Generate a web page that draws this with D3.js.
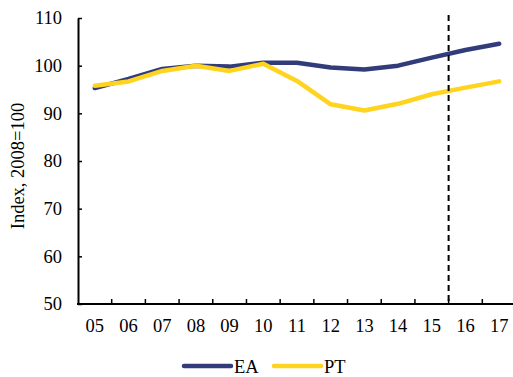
<!DOCTYPE html>
<html><head><meta charset="utf-8">
<script src="https://cdn.jsdelivr.net/npm/d3@7"></script>
<style>
body{margin:0;background:#fff;}
svg{display:block;font-family:"Liberation Serif","Times New Roman",serif;}
</style></head>
<body><svg id="c" width="513" height="377"></svg>
<script>
const categories = ["05","06","07","08","09","10","11","12","13","14","15","16","17"];
const seriesEA = [95.3, 97.2, 99.3, 100.0, 99.8, 100.6, 100.6, 99.6, 99.2, 100.0, 101.7, 103.3, 104.6];
const seriesPT = [95.8, 96.7, 98.9, 100.0, 98.9, 100.4, 96.8, 91.9, 90.6, 92.0, 94.0, 95.4, 96.7];
const seriesNames = ["EA", "PT"];
const yTicks = [50, 60, 70, 80, 90, 100, 110];
const forecastAfter = "15";
const yLabel = "Index, 2008=100";

const colors = {EA: "#323C7A", PT: "#FFD41F"};
const FS = 18.5;
const svg = d3.select("#c");
const x = d3.scaleBand().domain(categories).range([78, 516]).padding(0);
const y = d3.scaleLinear().domain([50, 110]).range([304, 18]);

// lines
const line = d3.line().x((d,i)=>x(categories[i]) + x.bandwidth()/2).y(d=>y(d));
[["EA", seriesEA], ["PT", seriesPT]].forEach(([n, s])=>{
  svg.append("path").datum(s).attr("d", line)
    .attr("fill","none").attr("stroke", colors[n]).attr("stroke-width", 4.5)
    .attr("stroke-linecap","round").attr("stroke-linejoin","round");
});

// dashed forecast line
const fx = x(forecastAfter) + x.bandwidth();
svg.append("line").attr("x1", fx).attr("x2", fx).attr("y1", y(110)-3).attr("y2", y(50))
  .attr("stroke","#000").attr("stroke-width",2).attr("stroke-dasharray","6,4");

// y axis
const yAxis = svg.append("g").attr("transform","translate(78,0)")
  .call(d3.axisLeft(y).tickValues(yTicks).tickSizeInner(-4).tickSizeOuter(0).tickPadding(16));
yAxis.select(".domain").attr("stroke","#000").attr("stroke-width",2);
yAxis.selectAll(".tick line").attr("stroke","#000").attr("stroke-width",1.5);
yAxis.selectAll("text").attr("font-size",FS).attr("fill","#000").attr("font-family","Liberation Serif");

// x axis with ticks at band boundaries
const xAxisG = svg.append("g").attr("transform","translate(0,304)");
xAxisG.append("line").attr("x1",77).attr("x2",516).attr("y1",0).attr("y2",0)
  .attr("stroke","#000").attr("stroke-width",2);
categories.slice(1).forEach(c=>{
  xAxisG.append("line").attr("x1",x(c)).attr("x2",x(c)).attr("y1",0).attr("y2",-5)
    .attr("stroke","#000").attr("stroke-width",1.5);
});
categories.forEach(c=>{
  xAxisG.append("text").attr("x", x(c)+x.bandwidth()/2).attr("y", 28)
    .attr("text-anchor","middle").attr("font-size",FS).attr("fill","#000").text(c);
});

// y label
svg.append("text").attr("transform","translate(24,166) rotate(-90)")
  .attr("text-anchor","middle").attr("font-size",FS).attr("fill","#000").text(yLabel);

// legend
const legendItems = [{n:"EA", x1:184, x2:231, tx:234},{n:"PT", x1:274, x2:321, tx:324}];
legendItems.forEach(l=>{
  svg.append("line").attr("x1",l.x1).attr("x2",l.x2).attr("y1",366).attr("y2",366)
    .attr("stroke",colors[l.n]).attr("stroke-width",4.5).attr("stroke-linecap","round");
  svg.append("text").attr("x",l.tx).attr("y",373).attr("font-size",FS).attr("fill","#000").text(l.n);
});
</script></body></html>
